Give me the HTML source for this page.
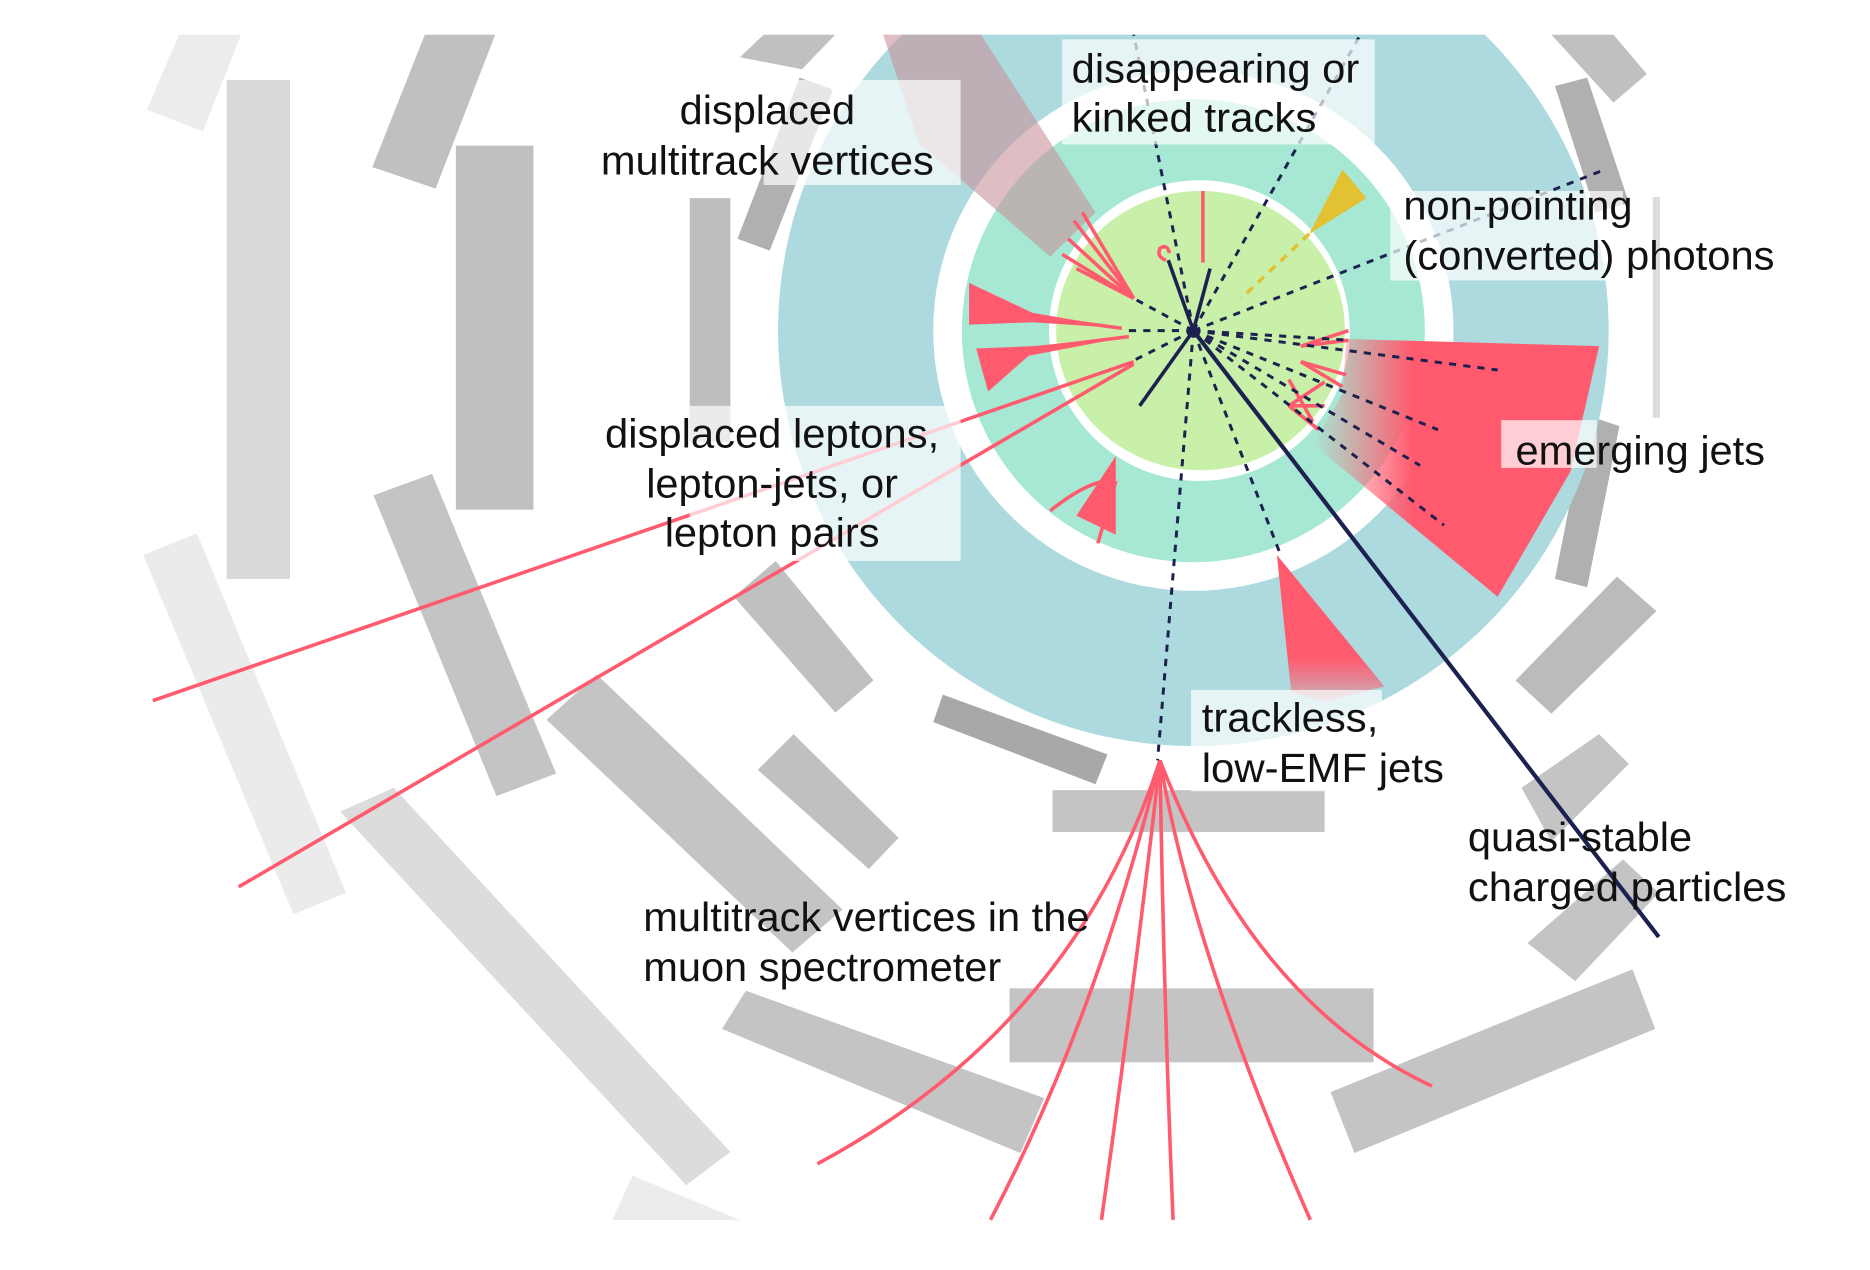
<!DOCTYPE html>
<html><head><meta charset="utf-8"><style>
html,body{margin:0;padding:0;background:#fff;}
svg{display:block;}
text{font-family:"Liberation Sans",sans-serif;font-size:34px;fill:#111;}
</style></head><body>
<svg width="1870" height="1270" viewBox="0 0 1567 1064" preserveAspectRatio="none" xmlns="http://www.w3.org/2000/svg">
<defs>
<clipPath id="c"><rect x="110" y="29" width="1282" height="994"/></clipPath>
<linearGradient id="ej" x1="0" y1="0" x2="1" y2="0">
<stop offset="0" stop-color="#ff5a6e" stop-opacity="0"/>
<stop offset="0.35" stop-color="#ff5a6e" stop-opacity="1"/>
<stop offset="1" stop-color="#ff5a6e"/>
</linearGradient>
<linearGradient id="tj" x1="0" y1="0" x2="0" y2="1">
<stop offset="0.7" stop-color="#ff5a6e"/>
<stop offset="1" stop-color="#ff5a6e" stop-opacity="0.3"/>
</linearGradient>
</defs>
<g clip-path="url(#c)">
<polygon points="150,29 202,29 170,110 123,92" fill="#ececec"/>
<rect x="190" y="67" width="53" height="418" fill="#d9d9d9"/>
<polygon points="356,29 415,29 365,158 312,140" fill="#c0c0c0"/>
<rect x="382" y="122" width="65" height="305" fill="#c0c0c0"/>
<rect x="578" y="166" width="34" height="204" fill="#bdbdbd"/>
<polygon points="670,65 698,75 645,210 618,200" fill="#b0b0b0"/>
<polygon points="640,29 700,29 672,58 620,48" fill="#c0c0c0"/>
<polygon points="120,465 165,447 290,748 246,766" fill="#ebebeb"/>
<polygon points="313,415 362,397 466,648 416,667" fill="#c4c4c4"/>
<polygon points="285,680 330,660 612,965 575,993" fill="#dcdcdc"/>
<polygon points="458,603 500,565 706,762 664,798" fill="#c4c4c4"/>
<polygon points="615,500 650,470 732,570 700,597" fill="#c0c0c0"/>
<polygon points="635,645 665,615 753,702 728,728" fill="#c0c0c0"/>
<polygon points="782,605 790,582 928,632 918,657" fill="#a8a8a8"/>
<rect x="882" y="662" width="228" height="35" fill="#c4c4c4"/>
<rect x="846" y="828" width="305" height="62" fill="#c4c4c4"/>
<polygon points="605,862 625,830 875,920 855,966" fill="#c4c4c4"/>
<polygon points="1115,915 1368,812 1387,862 1135,966" fill="#c4c4c4"/>
<polygon points="513,1022 530,985 620,1022" fill="#ececec"/>
<polygon points="1270,570 1355,483 1388,512 1300,598" fill="#bbbbbb"/>
<polygon points="1275,660 1340,615 1365,640 1300,705" fill="#c4c4c4"/>
<polygon points="1280,790 1360,720 1390,748 1320,822" fill="#c4c4c4"/>
<polygon points="1303,72 1330,65 1365,170 1337,178" fill="#b0b0b0"/>
<polygon points="1330,348 1357,357 1330,492 1303,485" fill="#b0b0b0"/>
<polygon points="1300,29 1352,29 1380,62 1352,86" fill="#c0c0c0"/>
<rect x="1385" y="165" width="6" height="185" fill="#dddddd"/>
<circle cx="1000" cy="277" r="348" fill="#acdadf"/>
<circle cx="1000" cy="277" r="218" fill="#fff"/>
<circle cx="1000" cy="277" r="194" fill="#a6e8d4"/>
<circle cx="1005" cy="277" r="126" fill="#fff"/>
<ellipse cx="1006" cy="277" rx="121" ry="117" fill="#c9f0a8"/>
<polygon points="740,29 822,29 918,178 880,215 770,120" fill="#c8929a" opacity="0.6"/>
<polygon points="1128,284 1340,290 1316,395 1255,500 1100,372 1125,330" fill="url(#ej)"/>
<polygon points="1070,465 1160,575 1110,588 1082,580" fill="url(#tj)"/>
<polygon points="1097,196 1125,142 1145,166" fill="#e2c232"/>
<line x1="1097" y1="196" x2="1040" y2="250" stroke="#e2c232" stroke-width="3" stroke-dasharray="7,6"/>
<polygon points="812,237 865,262 940,275 865,270 812,272" fill="#ff5a6e"/>
<polygon points="818,292 866,290 946,282 862,298 828,328" fill="#ff5a6e"/>
<polygon points="902,432 935,382 935,448" fill="#ff5a6e"/>
<g stroke="#ff5a6e" stroke-width="3" fill="none">
<line x1="128" y1="587" x2="950" y2="303"/>
<line x1="200" y1="743" x2="950" y2="305"/>
<line x1="940" y1="275" x2="865" y2="265"/>
<line x1="946" y1="282" x2="866" y2="292"/>
<path d="M935 403 Q915 400 880 428"/>
<line x1="935" y1="403" x2="920" y2="455"/>
<line x1="1008" y1="160" x2="1008" y2="220"/>
<path d="M977 218 q-8 -3 -5 -10 q6 -4 8 4"/>
<line x1="950" y1="250" x2="907" y2="178"/>
<line x1="950" y1="250" x2="900" y2="185"/>
<line x1="950" y1="250" x2="895" y2="200"/>
<line x1="950" y1="250" x2="890" y2="213"/>
<line x1="950" y1="250" x2="902" y2="225"/>
<line x1="1130" y1="277" x2="1090" y2="290"/>
<line x1="1130" y1="285" x2="1090" y2="290"/>
<line x1="1090" y1="303" x2="1128" y2="314"/>
<line x1="1090" y1="303" x2="1125" y2="324"/>
<line x1="1110" y1="320" x2="1080" y2="340" />
<line x1="1080" y1="340" x2="1105" y2="360"/>
<line x1="1080" y1="340" x2="1110" y2="340"/>
<line x1="1080" y1="318" x2="1100" y2="353"/>
<path d="M972 637 Q900 860 685 975"/>
<path d="M972 637 Q920 850 830 1022"/>
<path d="M972 637 Q950 830 923 1022"/>
<path d="M972 637 Q975 830 983 1022"/>
<path d="M972 637 Q1000 800 1098 1022"/>
<path d="M972 637 Q1050 840 1200 910"/>
</g>
<g stroke="#1c2150" fill="none">
<line x1="1000" y1="277" x2="1390" y2="785" stroke-width="3.5"/>
<line x1="1000" y1="277" x2="979" y2="218" stroke-width="3"/>
<line x1="1000" y1="277" x2="1014" y2="225" stroke-width="3"/>
<line x1="1000" y1="277" x2="955" y2="340" stroke-width="3"/>
<g stroke-width="2.5" stroke-dasharray="6,6">
<line x1="1000" y1="277" x2="950" y2="29"/>
<line x1="1000" y1="277" x2="1140" y2="29"/>
<line x1="1000" y1="277" x2="1345" y2="142"/>
<line x1="1000" y1="277" x2="970" y2="637"/>
<line x1="1000" y1="277" x2="1072" y2="462"/>
<line x1="1000" y1="277" x2="945" y2="277"/>
<line x1="1000" y1="277" x2="948" y2="303"/>
<line x1="1000" y1="277" x2="950" y2="250"/>
<line x1="1000" y1="277" x2="1255" y2="310"/>
<line x1="1000" y1="277" x2="1205" y2="360"/>
<line x1="1000" y1="277" x2="1190" y2="390"/>
<line x1="1000" y1="277" x2="1210" y2="440"/>
<line x1="1000" y1="277" x2="1130" y2="285"/>
</g>
</g>
<circle cx="1000" cy="277" r="4" fill="#1c2150"/>
<g fill="#fff" opacity="0.7">
<rect x="640" y="67" width="165" height="88"/>
<rect x="890" y="33" width="262" height="88"/>
<rect x="1165" y="160" width="195" height="75"/>
<rect x="578" y="340" width="227" height="130"/>
<rect x="1258" y="352" width="80" height="40"/>
<rect x="998" y="578" width="160" height="85"/>
</g>
</g>
<text x="643" y="104" text-anchor="middle" textLength="147" lengthAdjust="spacingAndGlyphs">displaced</text>
<text x="643" y="146" text-anchor="middle" textLength="279" lengthAdjust="spacingAndGlyphs">multitrack vertices</text>
<text x="898" y="69" textLength="241" lengthAdjust="spacingAndGlyphs">disappearing or</text>
<text x="898" y="110" textLength="205" lengthAdjust="spacingAndGlyphs">kinked tracks</text>
<text x="1176" y="184" textLength="192" lengthAdjust="spacingAndGlyphs">non-pointing</text>
<text x="1176" y="226" textLength="311" lengthAdjust="spacingAndGlyphs">(converted) photons</text>
<text x="647" y="375" text-anchor="middle" textLength="280" lengthAdjust="spacingAndGlyphs">displaced leptons,</text>
<text x="647" y="417" text-anchor="middle" textLength="211" lengthAdjust="spacingAndGlyphs">lepton-jets, or</text>
<text x="647" y="458" text-anchor="middle" textLength="180" lengthAdjust="spacingAndGlyphs">lepton pairs</text>
<text x="1270" y="389" textLength="209" lengthAdjust="spacingAndGlyphs">emerging jets</text>
<text x="1007" y="613" textLength="148" lengthAdjust="spacingAndGlyphs">trackless,</text>
<text x="1007" y="655" textLength="203" lengthAdjust="spacingAndGlyphs">low-EMF jets</text>
<text x="1230" y="713" textLength="188" lengthAdjust="spacingAndGlyphs">quasi-stable</text>
<text x="1230" y="755" textLength="267" lengthAdjust="spacingAndGlyphs">charged particles</text>
<text x="539" y="780" textLength="374" lengthAdjust="spacingAndGlyphs">multitrack vertices in the</text>
<text x="539" y="822" textLength="300" lengthAdjust="spacingAndGlyphs">muon spectrometer</text>
</svg>
</body></html>
